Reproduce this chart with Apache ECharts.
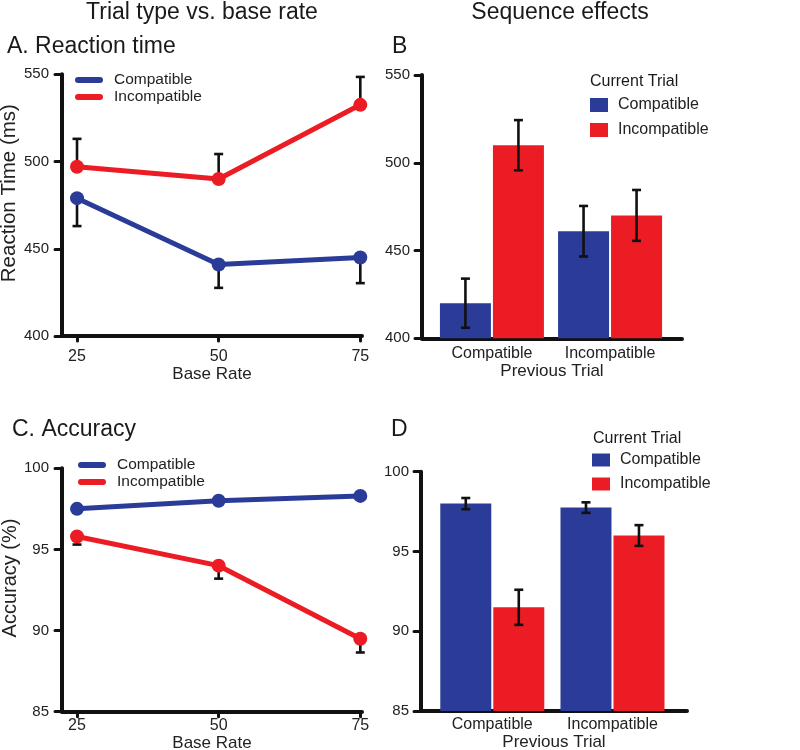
<!DOCTYPE html>
<html><head><meta charset="utf-8">
<script src="https://cdn.jsdelivr.net/npm/echarts@6/dist/echarts.min.js"></script>
<style>html,body{margin:0;padding:0;background:#fff}#c{width:800px;height:750px}</style>
</head><body><div id="c"></div><script>
// ---- data ----
const baseRates = [25, 50, 75];
const rtCompat = [479, 441, 445];
const rtCompatErr = [16, 13.4, 14.7];      // drawn downward
const rtIncompat = [497, 490, 532.5];
const rtIncompatErr = [16, 14.3, 16];      // drawn upward
const accCompat = [97.5, 98.0, 98.3];
const accCompatErr = [0.2, 0.2, 0.2];      // drawn upward
const accIncompat = [95.8, 94.0, 89.5];
const accIncompatErr = [0.5, 0.8, 0.85];   // drawn downward

const prevTrial = ['Compatible', 'Incompatible'];
const prevPos = [1, 2];
const seqRtCompat = [420, 461];
const seqRtCompatErr = [14, 14.4];
const seqRtIncompat = [510, 470];
const seqRtIncompatErr = [14.3, 14.5];
const seqAccCompat = [98.0, 97.75];
const seqAccCompatErr = [0.35, 0.33];
const seqAccIncompat = [91.5, 96.0];
const seqAccIncompatErr = [1.1, 0.65];

const rtTicks = [400, 450, 500, 550];
const accTicks = [85, 90, 95, 100];

// ---- style ----
const BLUE = '#2a3c98', RED = '#ec1c24', INK = '#111';
const FONT = "'Liberation Sans', Arial, sans-serif";
const BAR_W = 51, BAR_GAP_PX = 2;
const BAR_OFF = (BAR_W + BAR_GAP_PX) / 2;

const chart = echarts.init(document.getElementById('c'), null, {renderer: 'canvas'});

function oneSided(vals, errs, dir) {
  return baseRates.map((x, i) => [x, vals[i], vals[i] + dir * errs[i]]);
}
function twoSided(vals, errs) {
  return prevPos.map((x, i) => [x, vals[i] - errs[i], vals[i] + errs[i]]);
}
function errRender(offsetPx, capBoth) {
  return function (params, api) {
    const x = api.value(0), a = api.value(1), b = api.value(2);
    const p1 = api.coord([x, a]), p2 = api.coord([x, b]);
    const cx = p1[0] + offsetPx, cw = 4.5;
    const st = {stroke: INK, lineWidth: 2.6};
    const ch = [{type: 'line', shape: {x1: cx, y1: p1[1], x2: cx, y2: p2[1]}, style: st},
                {type: 'line', shape: {x1: cx - cw, y1: p2[1], x2: cx + cw, y2: p2[1]}, style: st}];
    if (capBoth) ch.push({type: 'line', shape: {x1: cx - cw, y1: p1[1], x2: cx + cw, y2: p1[1]}, style: st});
    return {type: 'group', children: ch};
  };
}

const axisLineStyle = {show: true, lineStyle: {color: INK, width: 4, cap: 'round'}};
const tickStyle = {show: true, inside: false, length: 7, lineStyle: {color: INK, width: 3, cap: 'round'}};

function yAxis(idx, ticks, margin) {
  return {
    type: 'value', gridIndex: idx, min: ticks[0], max: ticks[ticks.length - 1],
    interval: ticks[1] - ticks[0],
    axisLine: axisLineStyle, axisTick: tickStyle, splitLine: {show: false},
    axisLabel: {color: '#222', fontSize: 15, fontFamily: FONT, margin: margin}
  };
}
function ttl(text, left, top, size, extra) {
  return Object.assign({text: text, left: left, top: top, padding: 0,
    textStyle: {fontSize: size, fontWeight: 'normal', color: '#1a1a1a', fontFamily: FONT}}, extra || {});
}

const legendIcon = 'path://M3,0 L25,0 A3,3 0 0 1 25,6 L3,6 A3,3 0 0 1 3,0 Z';

const option = {
  backgroundColor: '#fff',
  animation: false,
  textStyle: {fontFamily: FONT},
  title: [
    ttl('Trial type vs. base rate', 202, 1, 23, {textAlign: 'center'}),
    ttl('Sequence effects', 560, 1, 23, {textAlign: 'center'}),
    ttl('A. Reaction time', 7, 35, 23),
    ttl('B', 392, 35, 23),
    ttl('C. Accuracy', 12, 418, 23),
    ttl('D', 391, 418, 23),
    ttl('Current Trial', 590, 74, 16),
    ttl('Current Trial', 593, 431, 16)
  ],
  legend: [
    {orient: 'vertical', left: 75, top: 72, padding: 0, itemWidth: 28, itemHeight: 7, itemGap: 1, icon: legendIcon, selectedMode: false,
     data: ['Compatible', 'Incompatible'], textStyle: {fontSize: 15.5, color: '#222', padding: [0, 0, 0, 6]}},
    {orient: 'vertical', left: 78, top: 457, padding: 0, itemWidth: 28, itemHeight: 7, itemGap: 1, icon: legendIcon, selectedMode: false,
     data: ['Compatible', 'Incompatible'], textStyle: {fontSize: 15.5, color: '#222', padding: [0, 0, 0, 6]}},
    {orient: 'vertical', left: 590, top: 97, padding: 0, itemWidth: 18, itemHeight: 14, itemGap: 9, icon: 'rect', selectedMode: false,
     data: ['Compatible', 'Incompatible'], textStyle: {fontSize: 16, color: '#222', padding: [0, 0, 0, 5]}},
    {orient: 'vertical', left: 592, top: 452, padding: 0, itemWidth: 18, itemHeight: 13, itemGap: 8, icon: 'rect', selectedMode: false,
     data: ['Compatible', 'Incompatible'], textStyle: {fontSize: 16, color: '#222', padding: [0, 0, 0, 5]}}
  ],
  grid: [
    {left: 62, top: 74.3, width: 300, height: 261.7, outerBoundsMode: 'none', containLabel: false},
    {left: 422, top: 75, width: 260, height: 263.3, outerBoundsMode: 'none', containLabel: false},
    {left: 62, top: 468.3, width: 300, height: 243.4, outerBoundsMode: 'none', containLabel: false},
    {left: 421, top: 471.7, width: 266, height: 239.3, outerBoundsMode: 'none', containLabel: false}
  ],
  xAxis: [
    {type: 'value', gridIndex: 0, min: 22.35, max: 75.3,
     name: 'Base Rate', nameLocation: 'middle', nameGap: 26, nameTextStyle: {fontSize: 17, color: '#222'},
     axisLine: axisLineStyle, splitLine: {show: false},
     axisTick: Object.assign({customValues: baseRates}, tickStyle, {length: 5}),
     axisLabel: {customValues: baseRates, fontSize: 16, color: '#222', margin: 13}},
    {type: 'value', gridIndex: 1, min: 0.408, max: 2.609,
     name: 'Previous Trial', nameLocation: 'middle', nameGap: 25, nameTextStyle: {fontSize: 17, color: '#222'},
     axisLine: axisLineStyle, splitLine: {show: false}, axisTick: {show: false},
     axisLabel: {customValues: prevPos, fontSize: 16, color: '#222', margin: 7, formatter: v => prevTrial[prevPos.indexOf(v)]}},
    {type: 'value', gridIndex: 2, min: 22.35, max: 75.3,
     name: 'Base Rate', nameLocation: 'middle', nameGap: 23, nameTextStyle: {fontSize: 17, color: '#222'},
     axisLine: axisLineStyle, splitLine: {show: false},
     axisTick: Object.assign({customValues: baseRates}, tickStyle, {length: 5}),
     axisLabel: {customValues: baseRates, fontSize: 16, color: '#222', margin: 6}},
    {type: 'value', gridIndex: 3, min: 0.407, max: 2.62,
     name: 'Previous Trial', nameLocation: 'middle', nameGap: 22, nameTextStyle: {fontSize: 17, color: '#222'},
     axisLine: axisLineStyle, splitLine: {show: false}, axisTick: {show: false},
     axisLabel: {customValues: prevPos, fontSize: 16, color: '#222', margin: 6, formatter: v => prevTrial[prevPos.indexOf(v)]}}
  ],
  yAxis: [
    Object.assign(yAxis(0, rtTicks, 13), {name: 'Reaction Time (ms)', nameLocation: 'middle', nameGap: 40,
      nameTextStyle: {fontSize: 20.5, color: '#222', padding: [0, 0, 0, 24]}}),
    yAxis(1, rtTicks, 12),
    Object.assign(yAxis(2, accTicks, 13), {name: 'Accuracy (%)', nameLocation: 'middle', nameGap: 40,
      nameTextStyle: {fontSize: 20, color: '#222', padding: [0, 0, 0, 24]}}),
    yAxis(3, accTicks, 12)
  ],
  series: [
    // Panel A
    {type: 'custom', name: 'errA1', xAxisIndex: 0, yAxisIndex: 0, z: 1, renderItem: errRender(0, false), data: oneSided(rtCompat, rtCompatErr, -1)},
    {type: 'custom', name: 'errA2', xAxisIndex: 0, yAxisIndex: 0, z: 1, renderItem: errRender(0, false), data: oneSided(rtIncompat, rtIncompatErr, 1)},
    {type: 'line', name: 'Compatible', xAxisIndex: 0, yAxisIndex: 0, z: 3, symbol: 'circle', symbolSize: 14,
     itemStyle: {color: BLUE}, lineStyle: {color: BLUE, width: 5}, data: baseRates.map((x, i) => [x, rtCompat[i]])},
    {type: 'line', name: 'Incompatible', xAxisIndex: 0, yAxisIndex: 0, z: 3, symbol: 'circle', symbolSize: 14,
     itemStyle: {color: RED}, lineStyle: {color: RED, width: 5}, data: baseRates.map((x, i) => [x, rtIncompat[i]])},
    // Panel C
    {type: 'custom', name: 'errC1', xAxisIndex: 2, yAxisIndex: 2, z: 1, renderItem: errRender(0, false), data: oneSided(accCompat, accCompatErr, 1)},
    {type: 'custom', name: 'errC2', xAxisIndex: 2, yAxisIndex: 2, z: 1, renderItem: errRender(0, false), data: oneSided(accIncompat, accIncompatErr, -1)},
    {type: 'line', name: 'Compatible', xAxisIndex: 2, yAxisIndex: 2, z: 3, symbol: 'circle', symbolSize: 14,
     itemStyle: {color: BLUE}, lineStyle: {color: BLUE, width: 5}, data: baseRates.map((x, i) => [x, accCompat[i]])},
    {type: 'line', name: 'Incompatible', xAxisIndex: 2, yAxisIndex: 2, z: 3, symbol: 'circle', symbolSize: 14,
     itemStyle: {color: RED}, lineStyle: {color: RED, width: 5}, data: baseRates.map((x, i) => [x, accIncompat[i]])},
    // Panel B
    {type: 'bar', name: 'Compatible', xAxisIndex: 1, yAxisIndex: 1, barWidth: BAR_W, barGap: (BAR_GAP_PX / BAR_W * 100) + '%',
     itemStyle: {color: BLUE}, data: prevPos.map((x, i) => [x, seqRtCompat[i]])},
    {type: 'bar', name: 'Incompatible', xAxisIndex: 1, yAxisIndex: 1, barWidth: BAR_W,
     itemStyle: {color: RED}, data: prevPos.map((x, i) => [x, seqRtIncompat[i]])},
    {type: 'custom', name: 'errB1', xAxisIndex: 1, yAxisIndex: 1, z: 5, renderItem: errRender(-BAR_OFF, true), data: twoSided(seqRtCompat, seqRtCompatErr)},
    {type: 'custom', name: 'errB2', xAxisIndex: 1, yAxisIndex: 1, z: 5, renderItem: errRender(BAR_OFF, true), data: twoSided(seqRtIncompat, seqRtIncompatErr)},
    // Panel D
    {type: 'bar', name: 'Compatible', xAxisIndex: 3, yAxisIndex: 3, barWidth: BAR_W, barGap: (BAR_GAP_PX / BAR_W * 100) + '%',
     itemStyle: {color: BLUE}, data: prevPos.map((x, i) => [x, seqAccCompat[i]])},
    {type: 'bar', name: 'Incompatible', xAxisIndex: 3, yAxisIndex: 3, barWidth: BAR_W,
     itemStyle: {color: RED}, data: prevPos.map((x, i) => [x, seqAccIncompat[i]])},
    {type: 'custom', name: 'errD1', xAxisIndex: 3, yAxisIndex: 3, z: 5, renderItem: errRender(-BAR_OFF, true), data: twoSided(seqAccCompat, seqAccCompatErr)},
    {type: 'custom', name: 'errD2', xAxisIndex: 3, yAxisIndex: 3, z: 5, renderItem: errRender(BAR_OFF, true), data: twoSided(seqAccIncompat, seqAccIncompatErr)}
  ]
};
chart.setOption(option);
</script></body></html>
